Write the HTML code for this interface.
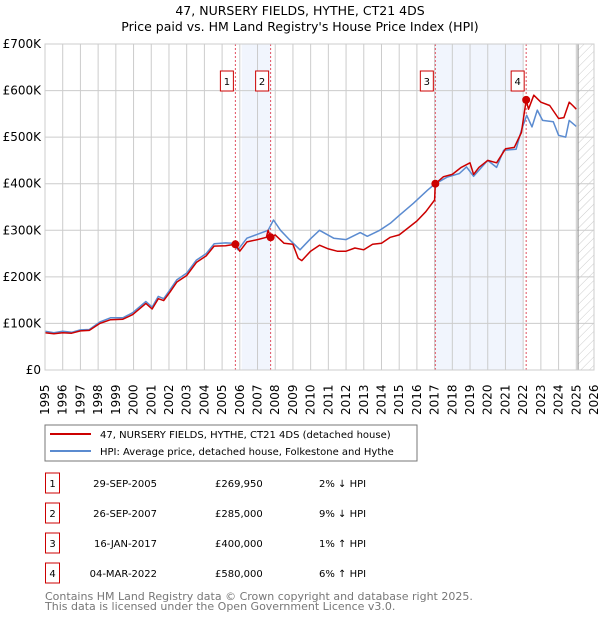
<!DOCTYPE html>
<html><head><meta charset="utf-8"><style>
body{margin:0;background:#fff;width:600px;height:620px;overflow:hidden;font-family:"Liberation Sans","DejaVu Sans",sans-serif}
svg text{font-family:"DejaVu Sans","Liberation Sans",sans-serif}
</style></head><body>
<svg id="c" width="600" height="620" viewBox="0 0 600 620" xmlns="http://www.w3.org/2000/svg">
<text x="300" y="15" text-anchor="middle" font-size="12.5">47, NURSERY FIELDS, HYTHE, CT21 4DS</text>
<text x="300" y="31" text-anchor="middle" font-size="12.5">Price paid vs. HM Land Registry's House Price Index (HPI)</text>
<defs><pattern id="hatch" width="6" height="6" patternUnits="userSpaceOnUse" patternTransform="rotate(45)"><line x1="0" y1="0" x2="0" y2="6" stroke="#ccc" stroke-width="1"/></pattern></defs>
<g id="plot"></g>
<rect x="45" y="425" width="372" height="36" fill="#fff" stroke="#777"/>
<line x1="50" y1="434" x2="91" y2="434" stroke="#cc0000" stroke-width="2"/>
<text x="100" y="438" font-size="10">47, NURSERY FIELDS, HYTHE, CT21 4DS (detached house)</text>
<line x1="50" y1="451" x2="91" y2="451" stroke="#5b8bd0" stroke-width="2"/>
<text x="100" y="455" font-size="10">HPI: Average price, detached house, Folkestone and Hythe</text>
<g id="table" font-size="10"></g>
<text x="45" y="600" font-size="11" fill="#777">Contains HM Land Registry data © Crown copyright and database right 2025.</text>
<text x="45" y="610" font-size="11" fill="#777">This data is licensed under the Open Government Licence v3.0.</text>
</svg>
<script>
const yearTicks=[1995,1996,1997,1998,1999,2000,2001,2002,2003,2004,2005,2006,2007,2008,2009,2010,2011,2012,2013,2014,2015,2016,2017,2018,2019,2020,2021,2022,2023,2024,2025,2026];
const valueTicks=[0,100,200,300,400,500,600,700];
const valueLabels=["£0","£100K","£200K","£300K","£400K","£500K","£600K","£700K"];
const hpiYears=[1995,1995.5,1996,1996.5,1997,1997.5,1998.1,1998.7,1999.4,1999.95,2000.7,2001.05,2001.4,2001.7,2002.05,2002.45,2003,2003.55,2004.1,2004.55,2005.2,2005.6,2005.9,2006.4,2006.9,2007.6,2007.9,2008.3,2008.8,2009.4,2010,2010.5,2011.3,2012,2012.8,2013.2,2013.9,2014.5,2015,2015.8,2016.6,2017,2017.7,2018.4,2018.8,2019.2,2020,2020.5,2020.9,2021.6,2021.9,2022.2,2022.5,2022.8,2023.1,2023.7,2024,2024.4,2024.6,2025];
const hpiValues=[83,80,83,81,86,87,103,112,112,123,147,135,158,153,172,194,208,236,250,271,273,272,258,283,290,300,322,300,280,258,282,300,283,280,295,287,300,315,332,358,386,399,414,422,436,416,450,435,472,474,515,547,522,558,536,533,504,500,536,523];
const priceYears=[1995,1995.5,1996,1996.5,1997,1997.5,1998.1,1998.7,1999.4,1999.95,2000.7,2001.05,2001.4,2001.7,2002.05,2002.45,2003,2003.55,2004.1,2004.55,2005.2,2005.75,2006.0,2006.4,2007,2007.5,2007.6,2007.74,2008,2008.5,2009,2009.3,2009.5,2010,2010.5,2011,2011.5,2012,2012.5,2013,2013.5,2014,2014.5,2015,2015.5,2016,2016.5,2017.0,2017.04,2017.5,2018,2018.5,2019,2019.2,2019.5,2020,2020.5,2021,2021.5,2021.9,2022.17,2022.3,2022.6,2023,2023.5,2024,2024.3,2024.6,2024.8,2025];
const priceValues=[80,78,80,79,84,85,100,108,109,119,143,131,153,149,167,189,203,231,245,266,267,270,255,275,280,285,300,285,290,272,270,240,235,255,268,260,255,255,262,258,270,272,285,290,305,320,340,365,400,415,420,435,445,420,435,450,445,475,478,510,580,560,590,575,568,540,542,575,568,560];
const saleYears=[2005.75,2007.74,2017.04,2022.17];
const saleValues=[269.95,285,400,580];
const saleLabels=["1","2","3","4"];
const saleDates=["29-SEP-2005","26-SEP-2007","16-JAN-2017","04-MAR-2022"];
const salePrices=["£269,950","£285,000","£400,000","£580,000"];
const saleHpi=["2% ↓ HPI","9% ↓ HPI","1% ↑ HPI","6% ↑ HPI"];

const NS="http://www.w3.org/2000/svg";
const X0=45,X1=594,Y0=370,Y1=44;
const xs=y=>X0+(y-1995)/(2026-1995)*(X1-X0);
const ys=v=>Y0-v/700*(Y0-Y1);
const plot=document.getElementById('plot');
function mk(t,a,p){const e=document.createElementNS(NS,t);for(const k in a)e.setAttribute(k,a[k]);(p||plot).appendChild(e);return e;}
let e;
e=mk('rect',{x:xs(2006.1),y:Y1,width:xs(2007.74)-xs(2006.1),height:Y0-Y1,fill:'#eef2fc',opacity:0.8});


e=mk('rect',{x:xs(2017.04),y:Y1,width:xs(2022.0)-xs(2017.04),height:Y0-Y1,fill:'#eef2fc',opacity:0.8});


e=mk('rect',{x:xs(2025.1),y:Y1,width:X1-xs(2025.1),height:Y0-Y1,fill:'url(#hatch)'});


yearTicks.forEach(y=>{
 e=mk('line',{x1:xs(y),x2:xs(y),y1:Y1,y2:Y0,stroke:'#ccc','stroke-width':1});
 
 
 e=mk('text',{x:0,y:0,'font-size':12,transform:`translate(${xs(y)+4},${415}) rotate(-90)`});
 e.textContent=y;
 
 
});
valueTicks.forEach((v,i)=>{
 e=mk('line',{x1:X0,x2:X1,y1:ys(v),y2:ys(v),stroke:'#ccc','stroke-width':1});
 
 
 e=mk('text',{x:X0-4,y:ys(v)+4,'font-size':12,'text-anchor':'end'});
 e.textContent=valueLabels[i];
 
 
});
e=mk('line',{x1:xs(2025.1),x2:xs(2025.1),y1:Y1,y2:Y0,stroke:'#888','stroke-width':1});


saleYears.forEach((y,i)=>{
 e=mk('line',{x1:xs(y),x2:xs(y),y1:Y1,y2:Y0,stroke:'#e05060','stroke-width':1,'stroke-dasharray':'2,2'});
 
 
});
function line(xa,va,col,name){
 const d=xa.map((x,i)=>(i?'L':'M')+xs(x).toFixed(1)+','+ys(va[i]).toFixed(1)).join('');
 const p=mk('path',{d:d,fill:'none',stroke:col,'stroke-width':1.5,'stroke-linejoin':'round'});
 
 
}
line(hpiYears,hpiValues,'#5b8bd0','hpi-line');
line(priceYears,priceValues,'#cc0000','price-line');
saleYears.forEach((y,i)=>{
 e=mk('circle',{cx:xs(y),cy:ys(saleValues[i]),r:4,fill:'#cc0000'});
 
 
 e=mk('rect',{x:xs(y)-15,y:71,width:13,height:20,fill:'#fff',stroke:'#cc0000'});
 
 
 e=mk('text',{x:xs(y)-8.5,y:85,'font-size':10,'text-anchor':'middle'});
 e.textContent=saleLabels[i];
 
 
});
plot.appendChild(mk('rect',{x:X0,y:Y1,width:X1-X0,height:Y0-Y1,fill:'none',stroke:'#ccc'}));
const tb=document.getElementById('table');
saleLabels.forEach((l,i)=>{
 const cy=483+i*30;
 e=mk('rect',{x:45.5,y:cy-10,width:14,height:20,fill:'#fff',stroke:'#cc0000'},tb);
 
 
 e=mk('text',{x:52.5,y:cy+4,'text-anchor':'middle'},tb);e.textContent=l;
 
 
 e=mk('text',{x:157,y:cy+4,'text-anchor':'end'},tb);e.textContent=saleDates[i];
 
 
 e=mk('text',{x:215,y:cy+4},tb);e.textContent=salePrices[i];
 
 
 e=mk('text',{x:319,y:cy+4},tb);e.textContent=saleHpi[i];
 
 
});
</script>
</body></html>
